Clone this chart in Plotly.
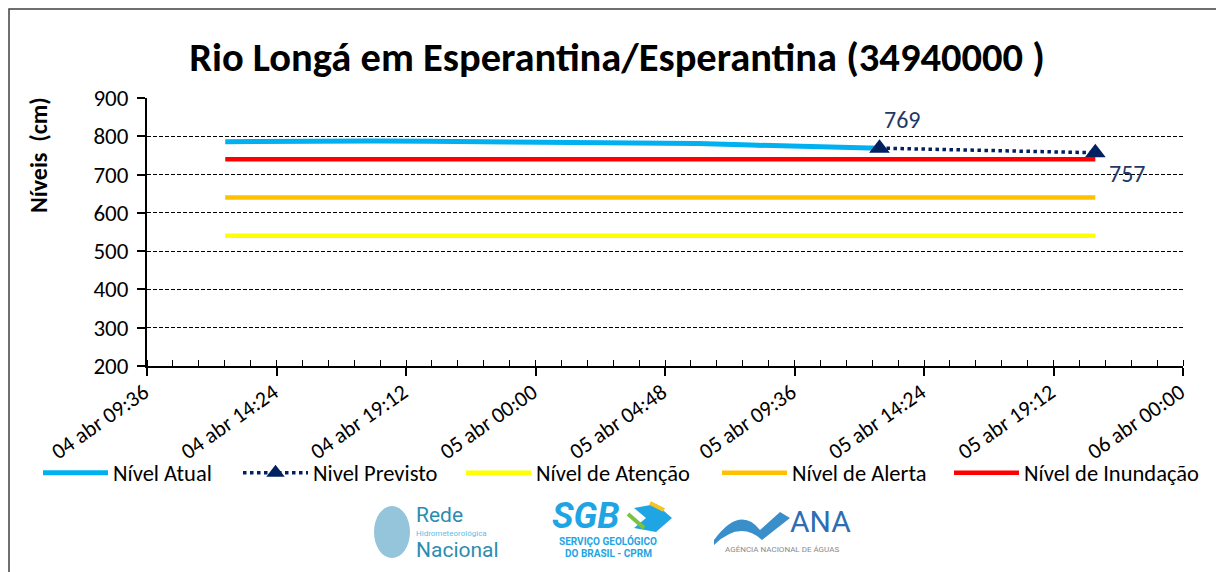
import plotly.graph_objects as go
import pandas as pd

# ---------------- data ----------------
obs_times = ["2024-04-04 12:30", "2024-04-04 14:00", "2024-04-04 16:00", "2024-04-04 18:00",
             "2024-04-04 20:00", "2024-04-04 22:00", "2024-04-05 00:00", "2024-04-05 02:00",
             "2024-04-05 04:00", "2024-04-05 06:00", "2024-04-05 08:00", "2024-04-05 10:00",
             "2024-04-05 12:00", "2024-04-05 12:45"]
obs_levels = [786, 787, 788, 788, 787, 786, 786, 785, 784, 781, 777, 773, 770, 769]

fc_times = ["2024-04-05 12:45", "2024-04-05 20:45"]
fc_levels = [769, 757]

thr_times = ["2024-04-04 12:30", "2024-04-05 20:45"]
nivel_atencao = [540, 540]
nivel_alerta = [640, 640]
nivel_inundacao = [740, 740]

x_range = ["2024-04-04 09:36", "2024-04-06 00:00"]
y_range = [200, 900]

title_text = "Rio Longá em Esperantina/Esperantina (34940000 )"
y_title = "Níveis  (cm)"

FONT = "Carlito, Lato, sans-serif"

# page has an 8px body margin: figure pixel = target pixel - 8
OFF = 8
L, T, PW, PH = 147 - OFF, 98 - OFF, 1036, 268
W, H = 1224, 572


def px(xp):
    return (xp - 147) / PW


def py(yp):
    return (366 - yp) / PH


fig = go.Figure()

fig.add_trace(go.Scatter(x=pd.to_datetime(obs_times), y=obs_levels, mode="lines",
                         name="Nível Atual", line=dict(color="#00B0F0", width=5), legend="legend"))
fig.add_trace(go.Scatter(x=pd.to_datetime(fc_times), y=fc_levels, mode="lines+markers",
                         name="Nivel Previsto",
                         line=dict(color="#002060", width=3.5, dash="dot"),
                         marker=dict(symbol="triangle-up", size=18, color="#002060"), legend="legend2"))
fig.add_trace(go.Scatter(x=pd.to_datetime(thr_times), y=nivel_atencao, mode="lines",
                         name="Nível de Atenção", line=dict(color="#FFFF00", width=4.5), legend="legend3"))
fig.add_trace(go.Scatter(x=pd.to_datetime(thr_times), y=nivel_alerta, mode="lines",
                         name="Nível de Alerta", line=dict(color="#FFC000", width=4.5), legend="legend4"))
fig.add_trace(go.Scatter(x=pd.to_datetime(thr_times), y=nivel_inundacao, mode="lines",
                         name="Nível de Inundação", line=dict(color="#FF0000", width=4.5), legend="legend5"))

annotations = []
# value labels
annotations.append(dict(x=pd.to_datetime(fc_times[0]), y=fc_levels[0], text=str(fc_levels[0]),
                        showarrow=False, xanchor="left", yanchor="bottom", xshift=3, yshift=12,
                        font=dict(family=FONT, size=24, color="#1F3864")))
annotations.append(dict(x=pd.to_datetime(fc_times[1]), y=fc_levels[1], text=str(fc_levels[1]),
                        showarrow=False, xanchor="left", yanchor="top", xshift=12, yshift=-4,
                        font=dict(family=FONT, size=24, color="#1F3864")))
# y title
annotations.append(dict(xref="paper", yref="paper", x=px(38), y=py(155), xanchor="center", yanchor="middle",
                        text="<b>" + y_title + "</b>", textangle=-90, showarrow=False,
                        font=dict(family=FONT, size=24, color="black")))

annotations += [
    dict(xref="paper", yref="paper", x=px(414), y=py(515), text="Rede", showarrow=False,
         xanchor="left", yanchor="middle",
         font=dict(family="Liberation Sans Narrow, Roboto", size=21, color="#2C8DB0")),
    dict(xref="paper", yref="paper", x=px(414), y=py(533), text="Hidrometeorológica", showarrow=False,
         xanchor="left", yanchor="middle",
         font=dict(family="Liberation Sans Narrow, Roboto", size=8, color="#5BC0E6")),
    dict(xref="paper", yref="paper", x=px(414), y=py(550), text="Nacional", showarrow=False,
         xanchor="left", yanchor="middle",
         font=dict(family="Liberation Sans Narrow, Roboto", size=21, color="#2C8DB0")),
    dict(xref="paper", yref="paper", x=px(586), y=py(516), text="<b><i>SGB</i></b>", showarrow=False,
         yanchor="middle", font=dict(family="Roboto", size=36, color="#1FA5E3")),
    dict(xref="paper", yref="paper", x=px(608), y=py(541), text="<b>SERVIÇO GEOLÓGICO</b>", showarrow=False,
         yanchor="middle", font=dict(family="Roboto", size=10, color="#1FA5E3")),
    dict(xref="paper", yref="paper", x=px(608), y=py(553), text="<b>DO BRASIL - CPRM</b>", showarrow=False,
         yanchor="middle", font=dict(family="Roboto", size=10, color="#1FA5E3")),
    dict(xref="paper", yref="paper", x=px(820), y=py(521), text="ANA", showarrow=False,
         yanchor="middle", font=dict(family="Roboto", size=30, color="#2E6DB4")),
    dict(xref="paper", yref="paper", x=px(782), y=py(549), text="AGÊNCIA NACIONAL DE ÁGUAS", showarrow=False,
         yanchor="middle", font=dict(family="Roboto", size=8, color="#8A8A8A")),
]

shapes = [
    dict(type="rect", xref="paper", yref="paper", x0=px(9), x1=px(1240), y0=py(600), y1=py(9),
         line=dict(color="#404040", width=1.5), fillcolor="rgba(0,0,0,0)", layer="below"),
    dict(type="circle", xref="paper", yref="paper", x0=px(374), x1=px(410), y0=py(558), y1=py(506),
         fillcolor="rgba(60,150,190,0.55)", line=dict(width=0)),
    # SGB icon
    dict(type="path", xref="paper", yref="paper",
         path=f"M {px(634)},{py(508)} L {px(656)},{py(504)} L {px(672)},{py(518)} L {px(656)},{py(532)} L {px(634)},{py(528)} L {px(646)},{py(518)} Z",
         fillcolor="#1FA5E3", line=dict(width=0)),
    dict(type="line", xref="paper", yref="paper", x0=px(628), x1=px(644), y0=py(514), y1=py(528),
         line=dict(color="#7CC242", width=4)),
    dict(type="line", xref="paper", yref="paper", x0=px(650), x1=px(664), y0=py(503), y1=py(510),
         line=dict(color="#F7C41F", width=4)),
    # ANA waves
    dict(type="path", xref="paper", yref="paper",
         path=f"M {px(714)},{py(540)} Q {px(740)},{py(505)} {px(760)},{py(530)} L {px(780)},{py(512)} L {px(790)},{py(518)} L {px(762)},{py(540)} Q {px(740)},{py(520)} {px(714)},{py(545)} Z",
         fillcolor="#3A8FCB", line=dict(width=0)),
]

leg_font = dict(family=FONT, size=22.5, color="black")
leg_common = dict(orientation="h", xanchor="left", yanchor="middle", y=py(473), font=leg_font,
                  itemwidth=65, bgcolor="rgba(0,0,0,0)")
leg_starts = [38, 238, 461, 717, 949]

fig.update_layout(
    width=W, height=H,
    margin=dict(l=L, r=W - L - PW, t=T, b=H - T - PH),
    paper_bgcolor="white", plot_bgcolor="white",
    title=dict(text="<b>" + title_text + "</b>", x=px(617), xanchor="center", xref="paper",
               y=1 - (57 - OFF) / H, yanchor="middle",
               font=dict(family=FONT, size=40.5, color="black")),
    font=dict(family=FONT, size=20, color="black"),
    showlegend=True,
    legend=dict(x=px(leg_starts[0]), **leg_common),
    legend2=dict(x=px(leg_starts[1]), **leg_common),
    legend3=dict(x=px(leg_starts[2]), **leg_common),
    legend4=dict(x=px(leg_starts[3]), **leg_common),
    legend5=dict(x=px(leg_starts[4]), **leg_common),
    annotations=annotations,
    shapes=shapes,
)

fig.update_xaxes(
    type="date", range=pd.to_datetime(x_range),
    tick0=pd.to_datetime(x_range[0]), dtick=4.8 * 3600 * 1000, tickformat="%d abr %H:%M",
    tickangle=-35, ticks="outside", ticklen=8, tickwidth=1.5, tickcolor="black",
    showline=True, linecolor="black", linewidth=2, showgrid=False, zeroline=False,
    tickfont=dict(family=FONT, size=22, color="black"), ticklabelshift=-3, ticklabelstandoff=-5,
    minor=dict(dtick=0.96 * 3600 * 1000, tick0=pd.to_datetime(x_range[0]), ticks="inside",
               ticklen=6, tickwidth=1, tickcolor="black", showgrid=False),
)
fig.update_yaxes(
    range=y_range, dtick=100, ticks="outside", ticklen=8, tickwidth=1.5, tickcolor="black",
    showline=True, linecolor="black", linewidth=2,
    showgrid=True, gridcolor="black", gridwidth=1, griddash="4px,2px", zeroline=False,
    tickfont=dict(family=FONT, size=23, color="black"), ticklabelstandoff=4,
)

fig.write_html("out.html")
